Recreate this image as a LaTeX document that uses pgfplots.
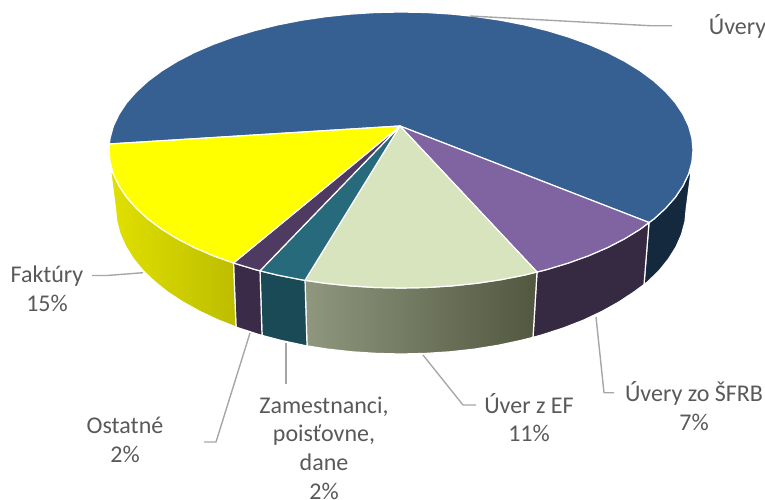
\documentclass[border=0pt]{standalone}
\usepackage{pgfplots}
\pgfplotsset{compat=1.18}
\usepackage{fontspec}
\setmainfont{Carlito}
\definecolor{txt}{HTML}{595959}
\definecolor{lead}{HTML}{A6A6A6}
\definecolor{cBlue}{HTML}{376092}
\definecolor{cBlueS}{HTML}{14283E}
\definecolor{cPur}{HTML}{8064A2}
\definecolor{cPurS}{HTML}{352A42}
\definecolor{cGrn}{HTML}{D7E4BD}
\definecolor{cGrnL}{HTML}{8F977F}
\definecolor{cGrnR}{HTML}{52573F}
\definecolor{cTeal}{HTML}{276A7C}
\definecolor{cTealS}{HTML}{1B4A57}
\definecolor{cVio}{HTML}{4F3B62}
\definecolor{cVioS}{HTML}{3A2B48}
\definecolor{cYel}{HTML}{FFFF00}
\definecolor{cYelL}{HTML}{E0E000}
\definecolor{cYelR}{HTML}{BDBD00}
\tikzset{
  sl/.style={draw=white,line width=1.2pt,line join=round},
  ld/.style={draw=lead,line width=1.4pt,line join=round},
  lb/.style={text=txt,font=\fontsize{24}{28.7}\selectfont,align=center,inner sep=0pt},
}
\begin{document}
\begin{tikzpicture}[x=1pt,y=1pt]
\useasboundingbox (0,0) rectangle (765,499);
\begin{axis}[
  at={(0,0)},anchor=south west,
  x=1pt,y=1pt,
  xmin=0,xmax=765,ymin=0,ymax=499,
  y dir=reverse,
  hide axis,
  clip=false,
]
% --- side faces
\addplot[sl,fill=cBlueS] coordinates {(691,172)(688.6,174)(683,185.7)(675.4,197.2)(665.6,208.3)(653.9,219)(649,222.5)(644,284.6)(647.4,282)(659,270.8)(668.5,259)(676,247)(681.5,234.5)(685,221.6)(686.2,209)} -- cycle;
\addplot[sl,fill=cPurS] coordinates {(649,222.5)(640.2,229.2)(624.7,238.7)(607.5,247.6)(588.7,255.7)(568.5,263)(547,269.5)(537,272)(533,337.4)(543,334.6)(563.9,327.8)(583.6,320.1)(601.8,311.5)(618.5,302.2)(633.7,292.2)(644,284.6)} -- cycle;
\addplot[sl,shade,left color=cGrnL,right color=cGrnR] coordinates {(537,272)(524.4,275.1)(500.9,279.7)(476.6,283.3)(451.7,285.9)(426.5,287.5)(401,288)(375.5,287.5)(350.3,285.9)(325.4,283.3)(305,280.3)(307,345.9)(327.5,349.1)(351.7,351.8)(376.2,353.4)(401,354)(425.8,353.4)(450.3,351.8)(474.5,349.1)(498.1,345.3)(521,340.4)(533,337.4)} -- cycle;
\addplot[sl,fill=cTealS] coordinates {(305,280.3)(301.1,279.7)(277.6,275.1)(260,270.8)(262,335.4)(281,340.4)(303.9,345.3)(307,345.9)} -- cycle;
\addplot[sl,fill=cVioS] coordinates {(260,270.8)(255,269.5)(233.5,263)(236,327)(238.1,327.8)(259,334.6)(262,335.4)} -- cycle;
\addplot[sl,shade,left color=cYelL,right color=cYelR] coordinates {(233.5,263)(213.3,255.7)(194.5,247.6)(177.3,238.7)(161.8,229.2)(148.1,219)(136.4,208.3)(126.6,197.2)(119,185.7)(113.4,174)(110.5,170)(115.5,209)(116.8,221.6)(120.2,234.2)(125.7,246.5)(133.2,258.6)(142.8,270.3)(154.5,281.5)(167.8,292.2)(183.2,302.2)(200,311.5)(218.4,320.1)(236,327)} -- cycle;
% --- top faces
\addplot[sl,fill=cBlue] coordinates {(400,126)(109.3,144)(110.1,138)(113.4,126)(119,114.3)(126.6,102.8)(136.4,91.7)(148.1,81)(161.8,70.8)(177.3,61.3)(194.5,52.4)(213.3,44.3)(233.5,37)(255,30.5)(277.6,24.9)(301.1,20.3)(325.4,16.7)(350.3,14.1)(375.5,12.5)(401,12)(426.5,12.5)(451.7,14.1)(476.6,16.7)(500.9,20.3)(524.4,24.9)(547,30.5)(568.5,37)(588.7,44.3)(607.5,52.4)(624.7,61.3)(640.2,70.8)(653.9,81)(665.6,91.7)(675.4,102.8)(683,114.3)(688.6,126)(691.9,138)(693,150)(691.9,162)(688.6,174)(683,185.7)(675.4,197.2)(665.6,208.3)(653.9,219)(649,222.5)} -- cycle;
\addplot[sl,fill=cPur] coordinates {(400,126)(649,222.5)(640.2,229.2)(624.7,238.7)(607.5,247.6)(588.7,255.7)(568.5,263)(547,269.5)(537,272)} -- cycle;
\addplot[sl,fill=cGrn] coordinates {(400,126)(537,272)(524.4,275.1)(500.9,279.7)(476.6,283.3)(451.7,285.9)(426.5,287.5)(401,288)(375.5,287.5)(350.3,285.9)(325.4,283.3)(305,280.3)} -- cycle;
\addplot[sl,fill=cTeal] coordinates {(400,126)(305,280.3)(301.1,279.7)(277.6,275.1)(260,270.8)} -- cycle;
\addplot[sl,fill=cVio] coordinates {(400,126)(260,270.8)(255,269.5)(233.5,263)} -- cycle;
\addplot[sl,fill=cYel] coordinates {(400,126)(233.5,263)(213.3,255.7)(194.5,247.6)(177.3,238.7)(161.8,229.2)(148.1,219)(136.4,208.3)(126.6,197.2)(119,185.7)(113.4,174)(110.1,162)(109,150)(109.3,144)} -- cycle;
% --- leader lines
\addplot[ld] coordinates {(470,16)(650,25.7)(672,25.7)};
\addplot[ld] coordinates {(143,272.7)(107,275.5)(92,275.5)};
\addplot[ld] coordinates {(250,333)(216,442)(204,442)};
\addplot[ld] coordinates {(286,343)(286,384)};
\addplot[ld] coordinates {(423,355)(463,405)(476,405)};
\addplot[ld] coordinates {(596,317)(604,392.7)(614,392.7)};
% --- labels
\node[lb] at (axis cs:737.5,26) {Úvery};
\node[lb] at (axis cs:47,289) {Faktúry\\15\%};
\node[lb] at (axis cs:125,440) {Ostatné\\2\%};
\node[lb] at (axis cs:324,448) {Zamestnanci,\\poisťovne,\\dane\\2\%};
\node[lb] at (axis cs:529,417.5) {Úver z EF\\11\%};
\node[lb] at (axis cs:694,406) {Úvery zo ŠFRB\\7\%};
\end{axis}
\end{tikzpicture}
\end{document}
